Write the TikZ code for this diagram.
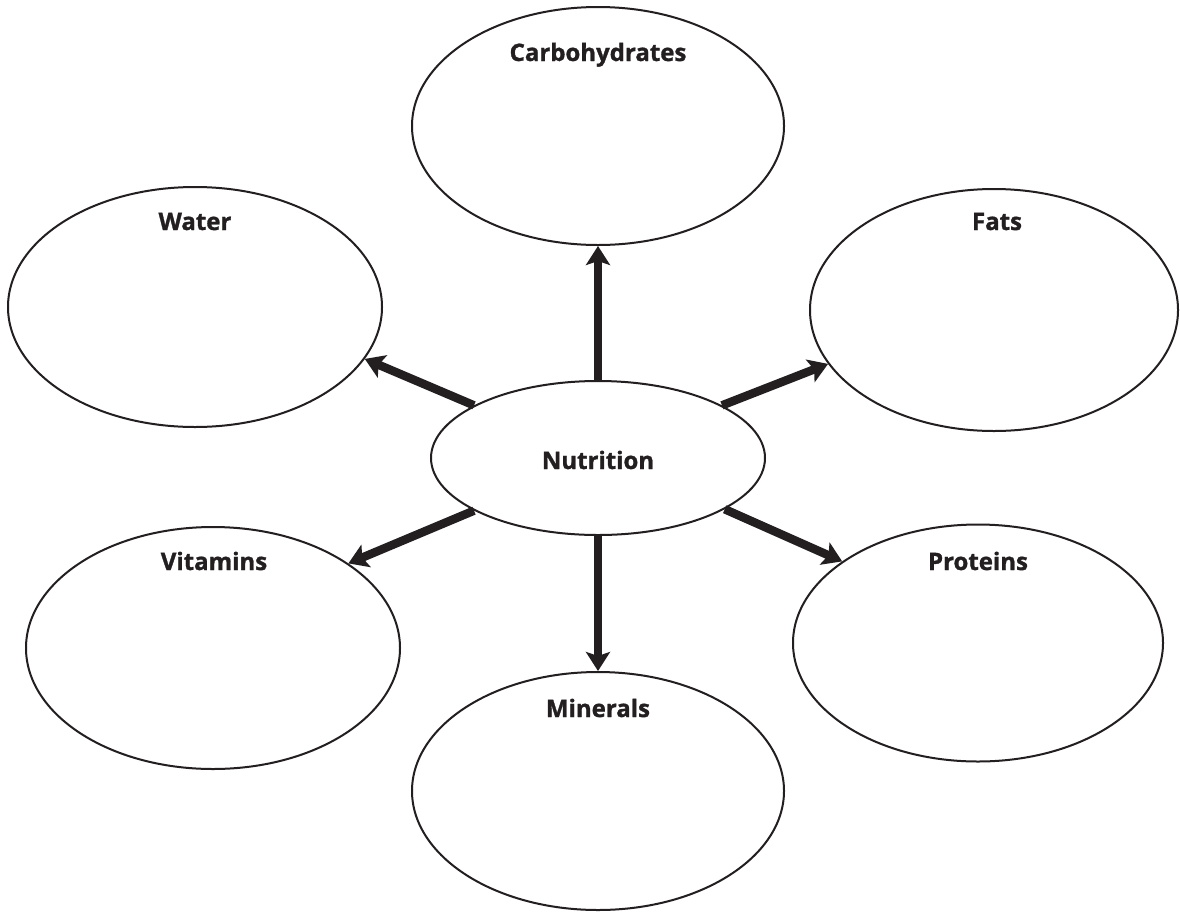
\documentclass[tikz,border=0pt]{standalone}
\usepackage{fontspec}
\setmainfont{Open Sans}[BoldFeatures={FakeBold=1.2}]
\usetikzlibrary{shapes.geometric,arrows.meta}
\definecolor{ink}{HTML}{231F20}
\begin{document}
\begin{tikzpicture}[x=1pt,y=-1pt,
  bubble/.style={draw=ink, ellipse, line width=2pt, inner sep=0pt, fill=white},
  lbl/.style={text=ink, font=\bfseries\fontsize{24}{27}\selectfont, anchor=base, inner sep=0pt},
  link/.style={draw=ink, line width=8.5pt, -{Stealth[length=19pt,width=24pt,inset=4pt]}}]
\useasboundingbox[fill=white] (0,0) rectangle (1180,911);
% ellipses
\node[bubble, minimum width=372pt, minimum height=238pt] (carb) at (598,126) {};
\node[bubble, minimum width=374pt, minimum height=240pt] (water) at (195,307) {};
\node[bubble, minimum width=368pt, minimum height=242pt] (fats) at (994,310) {};
\node[bubble, minimum width=334pt, minimum height=154pt] (nut) at (598,458) {};
\node[bubble, minimum width=374pt, minimum height=242pt] (vit) at (213,648) {};
\node[bubble, minimum width=370pt, minimum height=237pt] (prot) at (978,643) {};
\node[bubble, minimum width=372pt, minimum height=238pt] (min) at (598,791) {};
% labels
\node[lbl] (carbT) at (598,61) {Carbohydrates};
\node[lbl] (waterT) at (195,230) {Water};
\node[lbl] (fatsT) at (997,230) {Fats};
\node[lbl] (nutT) at (598,469) {Nutrition};
\node[lbl] (vitT) at (214,570) {Vitamins};
\node[lbl] (protT) at (978,570) {Proteins};
\node[lbl] (minT) at (598,717) {Minerals};
% arrows
\draw[link] (nut.north) -- (carb.south);
\draw[link] (nut.157.8) -- (water.-17.5);
\draw[link] (nut.23.5) -- (fats.-162.6);
\draw[link] (nut.203.7) -- (vit.32);
\draw[link] (nut.-22.8) -- (prot.149.8);
\draw[link] (nut.south) -- (min.north);
\end{tikzpicture}
\end{document}
